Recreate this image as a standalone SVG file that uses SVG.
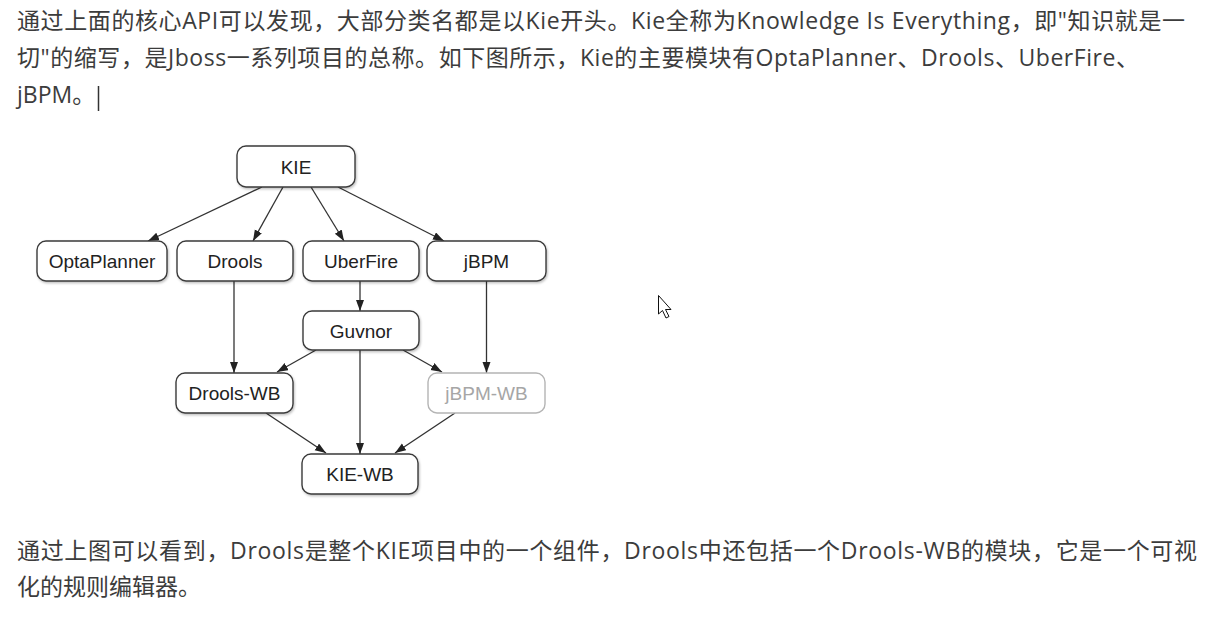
<svg xmlns="http://www.w3.org/2000/svg" width="1226" height="617" viewBox="0 0 1226 617">
<style>
.p{font-family:"Open Sans","Noto Sans CJK SC",sans-serif;font-size:23px;fill:#3c3c3c}
.box{fill:#fff;stroke:#3a3a3a;stroke-width:1.4}
.box.dim{stroke:#b4b4b4}
.lbl{font-family:"Liberation Sans",Arial,sans-serif;font-size:19px;fill:#222;text-anchor:middle}
.lbl.dim{fill:#a6a6a6}
.edge{stroke:#333;stroke-width:1.3;fill:none;marker-end:url(#ah)}
</style>
<defs>
<marker id="ah" markerUnits="userSpaceOnUse" markerWidth="12" markerHeight="9" refX="11" refY="4" orient="auto">
<path d="M0,0 L11,4 L0,8 Z" fill="#222"/>
</marker>
<filter id="sh" x="-10%" y="-10%" width="130%" height="140%">
<feDropShadow dx="1" dy="1.5" stdDeviation="1" flood-color="#000" flood-opacity="0.25"/>
</filter>
</defs>
<rect width="1226" height="617" fill="#fff"/>

<g id="text-top">
<text class="p" x="17" y="29" textLength="1168" lengthAdjust="spacing">通过上面的核心API可以发现，大部分类名都是以Kie开头。Kie全称为Knowledge Is Everything，即"知识就是一</text>
<text class="p" x="17" y="66" textLength="1122" lengthAdjust="spacing">切"的缩写，是Jboss一系列项目的总称。如下图所示，Kie的主要模块有OptaPlanner、Drools、UberFire、</text>
<text class="p" x="17" y="103">jBPM。</text>
<line x1="98.5" y1="86" x2="98.5" y2="111" stroke="#333" stroke-width="1.5"/>
</g>

<g id="connectors">
<line class="edge" x1="262" y1="187" x2="148" y2="241"/>
<line class="edge" x1="283" y1="187" x2="253" y2="241"/>
<line class="edge" x1="311" y1="187" x2="344" y2="241"/>
<line class="edge" x1="338" y1="187" x2="444" y2="241"/>
<line class="edge" x1="234" y1="281" x2="234" y2="373"/>
<line class="edge" x1="360" y1="281" x2="360" y2="311"/>
<line class="edge" x1="486.5" y1="281" x2="486.5" y2="373"/>
<line class="edge" x1="316" y1="350" x2="277" y2="372"/>
<line class="edge" x1="360" y1="350" x2="360" y2="454"/>
<line class="edge" x1="403" y1="350" x2="442" y2="372"/>
<line class="edge" x1="266" y1="413" x2="326" y2="453"/>
<line class="edge" x1="455" y1="413" x2="395" y2="453"/>
</g>

<g id="node-kie"><rect class="box" filter="url(#sh)" x="237" y="146" width="118" height="41" rx="9"/><text class="lbl" x="296" y="174">KIE</text></g>
<g id="node-optaplanner"><rect class="box" filter="url(#sh)" x="37" y="241" width="130" height="40" rx="9"/><text class="lbl" x="102" y="268">OptaPlanner</text></g>
<g id="node-drools"><rect class="box" filter="url(#sh)" x="177" y="241" width="116" height="40" rx="9"/><text class="lbl" x="235" y="268">Drools</text></g>
<g id="node-uberfire"><rect class="box" filter="url(#sh)" x="303" y="241" width="116" height="40" rx="9"/><text class="lbl" x="361" y="268">UberFire</text></g>
<g id="node-jbpm"><rect class="box" filter="url(#sh)" x="427" y="241" width="119" height="40" rx="9"/><text class="lbl" x="486.5" y="268">jBPM</text></g>
<g id="node-guvnor"><rect class="box" filter="url(#sh)" x="303" y="311" width="116" height="39" rx="9"/><text class="lbl" x="361" y="337.5">Guvnor</text></g>
<g id="node-drools-wb"><rect class="box" filter="url(#sh)" x="176" y="373" width="117" height="40" rx="9"/><text class="lbl" x="234.5" y="400">Drools-WB</text></g>
<g id="node-jbpm-wb"><rect class="box dim" x="428" y="373" width="117" height="40" rx="9"/><text class="lbl dim" x="486.5" y="400">jBPM-WB</text></g>
<g id="node-kie-wb"><rect class="box" filter="url(#sh)" x="302" y="454" width="116" height="40" rx="9"/><text class="lbl" x="360" y="481">KIE-WB</text></g>

<path d="M658.5,295.5 L658.5,314 L662.5,310.5 L666,318 L669,316.5 L665.5,309.5 L671,309.5 Z" fill="#fff" stroke="#111" stroke-width="1" stroke-linejoin="round"/>

<g id="text-bottom">
<text class="p" x="17" y="559" textLength="1180" lengthAdjust="spacing">通过上图可以看到，Drools是整个KIE项目中的一个组件，Drools中还包括一个Drools-WB的模块，它是一个可视</text>
<text class="p" x="17" y="595">化的规则编辑器。</text>
</g>
</svg>
